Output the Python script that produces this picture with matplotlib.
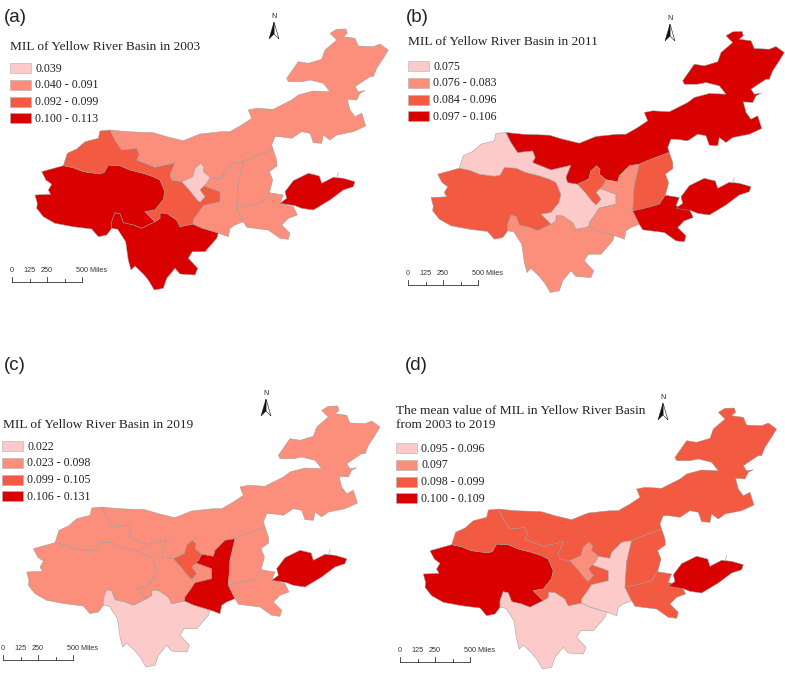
import matplotlib
matplotlib.use("Agg")
import matplotlib.pyplot as plt
from matplotlib.patches import Polygon, Rectangle

# ── Data ──────────────────────────────────────────────────────────────────────

# outlines in image pixels
INNER_MONGOLIA = [(330,33.3),(336.7,29.3),(346,29),(347.3,33.3),(343.3,36.7),(355,38.3),(358.3,46),(373.3,46.7),(380,44),(388.3,50),
    (383.3,58.3),(376.7,68.3),(373.3,76.7),(370,76.7),(365,80),(355,86.7),(358.3,91.7),(365,90.7),(360,93.3),(356.7,100),(347.3,99.3),
    (350,110),(355,116.7),(361.7,113.3),(365.7,126),(353.3,131.7),(336.7,135),(330,140),(323.3,135),(321.7,143.3),(313.3,142.7),(310,133.3),
    (301.7,131.7),(291.7,138.3),(280,136.7),(275,136.7),(271.7,145),(273.3,150),(255,156.7),(243.3,161.7),(233.3,163.3),(223.3,173.3),
    (221.7,179.3),(210,177.3),(203.3,171.7),(204,166.7),(200.7,163.3),(195,168.3),(192.7,176.7),(181.7,181.7),(171.7,180),(170,175),
    (175,162.7),(155,167.3),(136.7,160),(139.3,155),(136.7,148.3),(121.7,150),(115,140),(110,130),(126.7,131.7),(153.3,132.7),(166.7,136.7),
    (183.3,140.7),(200,134),(221.7,131.7),(230,131.7),(241.7,125),(251.7,118.3),(248.3,110),(256.7,108.3),(273.3,109.3),(291.7,100),(298.3,95),
    (313.3,91),(330,91.7),(323.3,83.3),(310,80),(301.7,81.7),(288.3,81.7),(286.7,78.3),(298.3,61.7),(308.3,63.3),(321.7,59.3),(325,50),(336.7,40)]
GANSU = [(110,130),(100,131),(98.3,138.3),(85,141.7),(76.7,149),(67.3,153.3),(63.3,165.7),(73.3,167.7),(83.3,171.7),(98.3,173.7),(104,172.7),
    (108.3,165),(120,165.7),(130,170),(143.3,173.3),(153.3,176.7),(160,180),(165,192),(163,200),(155,210),(145,211.7),(150,216.7),(155,221.7),
    (160,218.3),(160,213),(166.7,213.3),(176.7,220),(180,226.7),(193,224),(193.3,220),(199.3,211.7),(203.3,205.7),(220,201.7),(220,191.7),
    (201.7,185),(200,190),(205,196.7),(200,202.3),(196.7,199.3),(189.3,190),(181.7,181.7),(171.7,180),(170,175),(175,162.7),(155,167.3),
    (136.7,160),(139.3,155),(136.7,148.3),(121.7,150),(115,140)]
NINGXIA = [(200.7,163.3),(204,166.7),(203.3,171.7),(210,177.3),(206.7,183.3),(200,190),(205,196.7),(200,202.3),(196.7,199.3),(189.3,190),
    (181.7,181.7),(192.7,176.7),(195,168.3)]
QINGHAI = [(41.7,171.7),(63.3,165.7),(73.3,167.7),(83.3,171.7),(98.3,173.7),(104,172.7),(108.3,165),(120,165.7),(130,170),(143.3,173.3),
    (153.3,176.7),(160,180),(165,192),(163,200),(155,210),(145,211.7),(150,216.7),(155,221.7),(148.3,225),(141.7,228.3),(133.3,225),(123.3,222.7),
    (120,214),(115,212.7),(111.7,221.7),(111.7,228.3),(106.7,235),(98.3,236.7),(91.7,229),(73.3,226.7),(55,223.3),(43.3,216.7),(36.7,208.3),
    (37.3,203.3),(35,195),(50.7,194.3),(48.3,190),(51.7,184.3),(46,180)]
SICHUAN = [(111.7,228.3),(117.7,229.3),(125.7,241.7),(128.3,260),(131,270),(135,266),(143.3,274),(148.3,280),(154.3,290),(163.3,288.3),
    (166.7,278.3),(175,268.3),(180,274),(195,275),(197.7,268.3),(188.3,258.3),(192.3,251.7),(205,251.7),(216.7,238.3),(218.3,233),(201.7,228),
    (193,224),(180,226.7),(176.7,220),(166.7,213.3),(160,213),(160,218.3),(155,221.7),(148.3,225),(141.7,228.3),(133.3,225),(123.3,222.7),
    (120,214),(115,212.7),(111.7,221.7)]
SHAANXI = [(243.3,161.7),(233.3,163.3),(223.3,173.3),(221.7,179.3),(210,177.3),(206.7,183.3),(201.7,185),(220,191.7),(220,201.7),(203.3,205.7),
    (199.3,211.7),(193.3,220),(193,224),(201.7,228),(218.3,233),(228.3,236.7),(230,228.3),(235,225),(243.3,221.7),(236.7,208.3),(238.3,183.3)]
SHANXI = [(273.3,150),(276.7,160),(277,166),(269.3,171.7),(272.7,180),(269.3,192.7),(263.3,201.7),(251.7,205),(236.7,208.3),(238.3,183.3),
    (243.3,161.7),(255,156.7)]
HENAN = [(236.7,208.3),(251.7,205),(263.3,201.7),(269.3,192.7),(283.3,195),(280,203.3),(293.3,206.7),(297.3,215),(288.3,218.3),(281.7,225),
    (290,233.3),(288.3,239.3),(280,238.3),(268.3,230),(246.7,227.3),(243.3,221.7)]
SHANDONG = [(285,191.7),(293.3,180.7),(308.3,173.3),(319.3,176),(321.7,183.3),(333.3,177.3),(343.3,178.3),(355,181.7),(353.3,186.7),(343.3,190),
    (330,200),(313.3,210),(301.7,208.3),(295,205.7),(280,203.3),(286.7,198.3)]
SHANDONG_SPIKE = [(338.3,172.7),(336.7,178)]

REGIONS = [QINGHAI, SICHUAN, GANSU, INNER_MONGOLIA, SHAANXI, SHANXI, HENAN, NINGXIA, SHANDONG]

# class index per region, same order as REGIONS
CLASSES_A = [3, 3, 2, 1, 1, 1, 1, 0, 3]
CLASSES_B = [2, 1, 0, 3, 1, 2, 3, 2, 3]
CLASSES_C = [1, 0, 1, 1, 3, 1, 1, 2, 3]
CLASSES_D = [3, 0, 2, 2, 0, 2, 2, 1, 3]

LEGEND_A = ["0.039", "0.040 - 0.091", "0.092 - 0.099", "0.100 - 0.113"]
LEGEND_B = ["0.075", "0.076 - 0.083", "0.084 - 0.096", "0.097 - 0.106"]
LEGEND_C = ["0.022", "0.023 - 0.098", "0.099 - 0.105", "0.106 - 0.131"]
LEGEND_D = ["0.095 - 0.096", "0.097", "0.098 - 0.099", "0.100 - 0.109"]

TITLE_A = "MIL of Yellow River Basin in 2003"
TITLE_B = "MIL of Yellow River Basin in 2011"
TITLE_C = "MIL of Yellow River Basin in 2019"
TITLE_D = "The mean value of MIL in Yellow River Basin\nfrom 2003 to 2019"

SCALE_TICKS = [0, 125, 250, 375, 500]
SCALE_LABELS = {0: "0", 125: "125", 250: "250", 500: "500 Miles"}

COLORS = ["#fdcaca", "#fc8f7c", "#f25b41", "#d90000"]
EDGE = "#9a9a9a"

# ── Layout (pixels) ───────────────────────────────────────────────────────────

PANELS = [
    dict(tag="(a)", tag_xy=(4, 17), title=TITLE_A, title_xy=(10, 47), classes=CLASSES_A, legend=LEGEND_A, legend_xy=(10, 63),
         map_off=(0, 0), sd_off=(0, 0), scale_xy=(12, 282), north_xy=(274, 30)),
    dict(tag="(b)", tag_xy=(406, 17), title=TITLE_B, title_xy=(408, 42), classes=CLASSES_B, legend=LEGEND_B, legend_xy=(408, 61),
         map_off=(396, 2.5), sd_off=(0, 2.5), scale_xy=(408, 285), north_xy=(670, 32)),
    dict(tag="(c)", tag_xy=(4, 365), title=TITLE_C, title_xy=(3, 425), classes=CLASSES_C, legend=LEGEND_C, legend_xy=(2, 441),
         map_off=(-8.3, 377), sd_off=(0, 0), scale_xy=(3, 660), north_xy=(266, 407)),
    dict(tag="(d)", tag_xy=(405, 365), title=TITLE_D, title_xy=(396, 418), classes=CLASSES_D, legend=LEGEND_D, legend_xy=(396, 443),
         map_off=(388.3, 379), sd_off=(0, 4), scale_xy=(400, 662), north_xy=(663, 411)),
]

# ── Figure ────────────────────────────────────────────────────────────────────

plt.rcParams["font.family"] = ["Liberation Sans", "DejaVu Sans"]

fig = plt.figure(figsize=(7.85, 6.74), dpi=100)
ax = fig.add_axes([0, 0, 1, 1])
ax.set_xlim(0, 785)
ax.set_ylim(674, 0)
ax.axis("off")

for p in PANELS:
    ox, oy = p["map_off"]
    for region, cls in zip(REGIONS, p["classes"]):
        dx, dy = p["sd_off"] if region is SHANDONG else (0, 0)
        pts = [(x + ox + dx, y + oy + dy) for x, y in region]
        ax.add_patch(Polygon(pts, closed=True, facecolor=COLORS[cls], edgecolor=EDGE, linewidth=0.35, joinstyle="round"))
    sdx, sdy = p["sd_off"]
    ax.plot([x + ox + sdx for x, y in SHANDONG_SPIKE], [y + oy + sdy for x, y in SHANDONG_SPIKE], color="#b0b0b0", lw=0.5)

    # panel tag and legend title
    ax.text(p["tag_xy"][0], p["tag_xy"][1], p["tag"], fontsize=13.5, ha="left", va="center", color="#222222")
    ax.text(p["title_xy"][0], p["title_xy"][1], p["title"], family="Liberation Serif", fontsize=9.6,
            ha="left", va="center", color="#222222", linespacing=1.25)

    # legend
    lx, ly = p["legend_xy"]
    for i, (label, color) in enumerate(zip(p["legend"], COLORS)):
        y = ly + i * 16.8
        ax.add_patch(Rectangle((lx, y), 21, 10, facecolor=color, edgecolor="#b0b0b0", linewidth=0.4))
        ax.text(lx + 25, y + 5.5, label, family="Liberation Serif", fontsize=8.6, ha="left", va="center", color="#222222")

    # scale bar
    sx, sy = p["scale_xy"]
    ax.plot([sx, sx + 70], [sy, sy], color="#333333", lw=0.6)
    for tick in SCALE_TICKS:
        tx = sx + tick * 70 / 500
        ax.plot([tx, tx], [sy, sy - (5 if tick % 250 == 0 else 3)], color="#333333", lw=0.6)
        if tick in SCALE_LABELS:
            label_x = tx - 6 if tick == 500 else tx
            ax.text(label_x, sy - 8, SCALE_LABELS[tick], fontsize=5.2, ha="left" if tick == 500 else "center",
                    va="bottom", color="#333333")

    # north arrow
    nx, ny = p["north_xy"]
    ax.add_patch(Polygon([(nx, ny - 8), (nx + 5, ny + 9), (nx, ny + 4)], closed=True, facecolor="white", edgecolor="#111111", linewidth=0.4))
    ax.add_patch(Polygon([(nx, ny - 8), (nx - 5, ny + 9), (nx, ny + 4)], closed=True, facecolor="#111111", edgecolor="#111111", linewidth=0.3))
    ax.text(nx, ny - 10, "N", fontsize=5, ha="center", va="bottom", color="#222222")

fig.savefig("out.png", dpi=100)
